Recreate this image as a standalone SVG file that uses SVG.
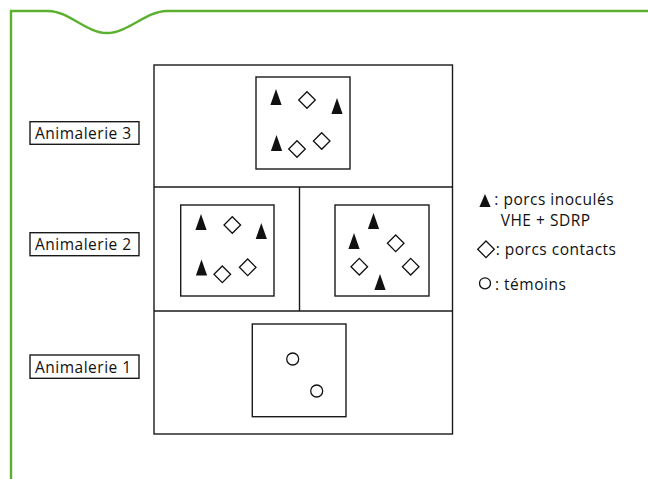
<svg xmlns="http://www.w3.org/2000/svg" xmlns:xlink="http://www.w3.org/1999/xlink" width="648" height="479" viewBox="0 0 648 479">
  <style>
    .frame { fill: none; stroke: #5bb030; stroke-width: 2.4; }
    .box { fill: #fff; stroke: #1a1a1a; stroke-width: 1.4; }
    .line { fill: none; stroke: #1a1a1a; stroke-width: 1.4; }
    .tri { fill: #111; stroke: none; }
    .dia { fill: #fff; stroke: #111; stroke-width: 1.3; }
    .cir { fill: #fff; stroke: #111; stroke-width: 1.3; }
    .lbl { font-family: "Open Sans", "Noto Sans", sans-serif; font-size: 15.5px; letter-spacing: 0.5px; fill: #111; }
  </style>
  <defs>
    <path id="tri" class="tri" d="M0,-8 L5.6,8 L-5.6,8 Z"/>
    <path id="tris" class="tri" d="M0,-6.5 L5.6,6.5 L-5.6,6.5 Z"/>
    <path id="dia" class="dia" d="M0,-8.3 L8.3,0 L0,8.3 L-8.3,0 Z"/>
  </defs>
  <rect width="648" height="479" fill="#fff"/>
  <path class="frame" d="M11,479 V11 H48 C69,11 86,33 107,33 C128,33 146,11 167,11 H648"/>

  <g id="building">
    <rect class="box" x="154" y="65" width="298.5" height="369"/>
    <line class="line" x1="154" y1="187" x2="452.5" y2="187"/>
    <line class="line" x1="154" y1="311" x2="452.5" y2="311"/>
    <line class="line" x1="299.5" y1="187" x2="299.5" y2="311"/>
  </g>

  <g id="label-3"><rect class="box" x="30" y="121.7" width="109" height="22.6"/><text class="lbl" x="35" y="138.5">Animalerie 3</text></g>
  <g id="label-2"><rect class="box" x="30" y="232.7" width="109" height="23"/><text class="lbl" x="35" y="250">Animalerie 2</text></g>
  <g id="label-1"><rect class="box" x="30" y="355" width="109" height="23.3"/><text class="lbl" x="35" y="372.7">Animalerie 1</text></g>

  <g id="pen-3">
    <rect class="box" x="256" y="77" width="94" height="92"/>
    <use xlink:href="#tri" x="276" y="97"/>
    <use xlink:href="#tri" x="337" y="106"/>
    <use xlink:href="#tri" x="276.5" y="143"/>
    <use xlink:href="#dia" x="307" y="100"/>
    <use xlink:href="#dia" x="297" y="149"/>
    <use xlink:href="#dia" x="321.7" y="141"/>
  </g>

  <g id="pen-2a">
    <rect class="box" x="180.7" y="205" width="93.3" height="91"/>
    <use xlink:href="#tri" x="201" y="222"/>
    <use xlink:href="#tri" x="261.3" y="231"/>
    <use xlink:href="#tri" x="201.5" y="267.5"/>
    <use xlink:href="#dia" x="232.3" y="225"/>
    <use xlink:href="#dia" x="222.3" y="274.3"/>
    <use xlink:href="#dia" x="247.7" y="267.3"/>
  </g>

  <g id="pen-2b">
    <rect class="box" x="335" y="205" width="94" height="91"/>
    <use xlink:href="#tri" x="373.5" y="221"/>
    <use xlink:href="#tri" x="354" y="241"/>
    <use xlink:href="#tri" x="380" y="282"/>
    <use xlink:href="#dia" x="395.7" y="243.3"/>
    <use xlink:href="#dia" x="359.3" y="266.7"/>
    <use xlink:href="#dia" x="410.7" y="266.7"/>
  </g>

  <g id="pen-1">
    <rect class="box" x="252.3" y="324" width="93.7" height="92.7"/>
    <circle class="cir" cx="292.7" cy="359" r="6"/>
    <circle class="cir" cx="316.7" cy="391" r="6"/>
  </g>

  <g id="legend">
    <use xlink:href="#tris" x="485" y="200.5"/>
    <text class="lbl" x="494.3" y="205">: porcs inoculés</text>
    <text class="lbl" x="500.7" y="226">VHE + SDRP</text>
    <use xlink:href="#dia" x="486" y="249.3"/>
    <text class="lbl" x="495.7" y="255">: porcs contacts</text>
    <circle class="cir" cx="485" cy="283.3" r="5.5"/>
    <text class="lbl" x="495" y="290">: témoins</text>
  </g>
</svg>
